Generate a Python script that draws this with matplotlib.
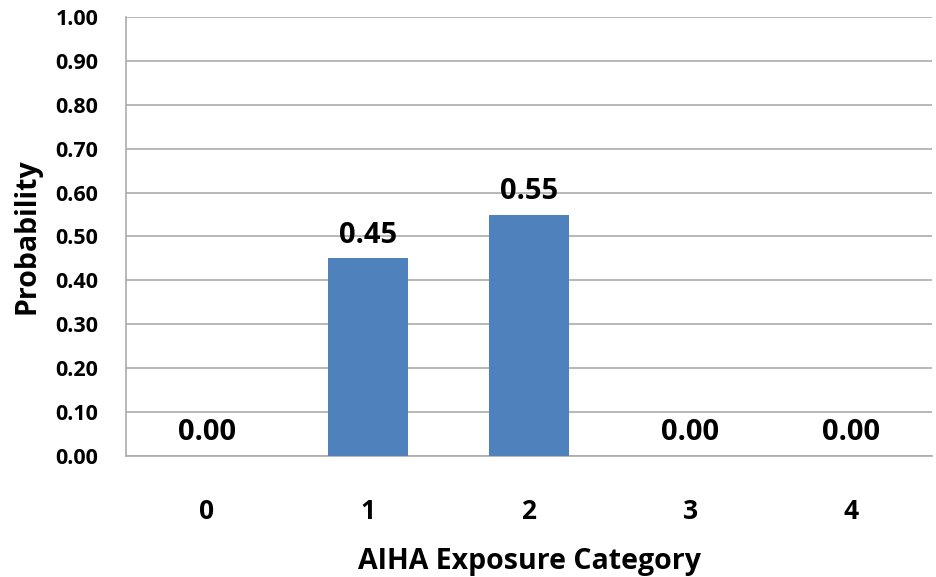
import matplotlib.pyplot as plt
from matplotlib.ticker import MultipleLocator, FormatStrFormatter

# -----------------------
# Data
# -----------------------
categories = ["0", "1", "2", "3", "4"]
probabilities = [0.00, 0.45, 0.55, 0.00, 0.00]

BAR_COLOR = "#4F81BD"
GRID_COLOR = "#ABABAB"
FONT = "Open Sans"

plt.rcParams["font.family"] = [FONT, "DejaVu Sans"]
plt.rcParams["font.weight"] = "bold"

fig = plt.figure(figsize=(9.36, 5.77), dpi=100)
ax = fig.add_axes([126 / 936, 1 - 456 / 577, (932 - 126) / 936, (456 - 17) / 577])

x = list(range(len(categories)))
bars = ax.bar(x, probabilities, width=0.5, color=BAR_COLOR, zorder=3)

# value labels above each bar
for xi, v in zip(x, probabilities):
    ax.text(xi, v + 0.02, f"{v:.2f}", ha="center", va="bottom",
            fontsize=21, fontweight="bold", color="black", zorder=4)

ax.set_xlim(-0.5, len(categories) - 0.5)
ax.set_ylim(0, 1.0)
ax.yaxis.set_major_locator(MultipleLocator(0.1))
ax.yaxis.set_major_formatter(FormatStrFormatter("%.2f"))
ax.set_xticks(x)
ax.set_xticklabels(categories)

ax.grid(axis="y", color=GRID_COLOR, linewidth=1.2, zorder=0)
ax.set_axisbelow(True)

for side in ["top", "right"]:
    ax.spines[side].set_visible(False)
for side in ["left", "bottom"]:
    ax.spines[side].set_color(GRID_COLOR)
    ax.spines[side].set_linewidth(1.2)

ax.tick_params(axis="y", length=0, pad=20, labelsize=15.5)
ax.tick_params(axis="x", length=0, pad=30, labelsize=19)
for lbl in ax.get_xticklabels() + ax.get_yticklabels():
    lbl.set_fontweight("bold")

ax.set_xlabel("AIHA Exposure Category", fontsize=20.5, fontweight="bold", labelpad=16)
ax.set_ylabel("Probability", fontsize=20.5, fontweight="bold", labelpad=10)

fig.savefig("out.png", dpi=100)
